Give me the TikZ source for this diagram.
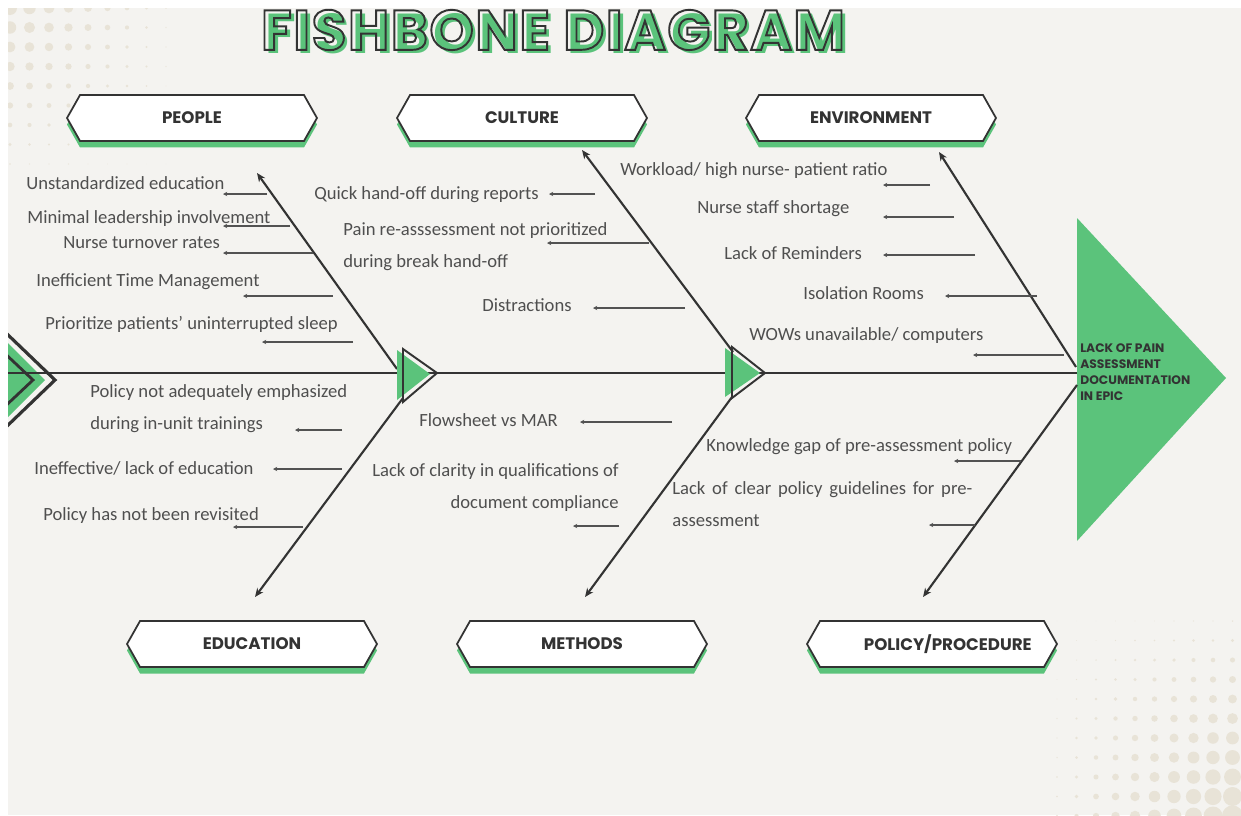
\documentclass[tikz,border=0pt]{standalone}
\usepackage{fontspec}
\usepackage{xcolor}
\usetikzlibrary{arrows.meta,positioning,shapes.symbols,shadows}

\newfontfamily\causefont{Carlito}
\newfontfamily\labelfont{Poppins}
\newfontfamily\titlefont{Poppins}[LetterSpace=3]

\definecolor{fishbg}{HTML}{F4F3F0}
\definecolor{fishdot}{HTML}{E8E3D7}
\definecolor{fishgreen}{HTML}{5BC37B}
\definecolor{fishdark}{HTML}{333333}
\definecolor{fishtext}{HTML}{4F4F4F}

% hollow letters: stroke only
\newcommand\outlined[1]{\special{pdf:literal direct 1 Tr 1.1 w}#1\special{pdf:literal direct 0 Tr}}
% green copy shifted right and down under the hollow letters
\newcommand\shaded[1]{\makebox[0pt][l]{\hspace{2.3pt}\raisebox{-2.3pt}{\color{fishgreen}#1}}\outlined{#1}}

\begin{document}
\begin{tikzpicture}[x=0.02cm, y=-0.02cm,
  spine/.style={draw=fishdark, line width=1.6pt},
  bone/.style={draw=fishdark, line width=1.2pt, -{Stealth[length=5pt, width=4.2pt]}},
  rib/.style={draw=fishdark!85, line width=0.6pt, -{Stealth[length=2.4pt, width=2.4pt]}},
  cat/.style={signal, signal to=east and west, signal pointer angle=121,
    draw=fishdark, line width=1pt, fill=white, minimum width=5cm,
    minimum height=0.92cm, inner sep=0pt, text=fishdark,
    font=\labelfont\bfseries\fontsize{9.5}{11}\selectfont,
    drop shadow={shadow xshift=0cm, shadow yshift=-0.13cm, fill=fishgreen, opacity=1}},
  cause/.style={font=\causefont\fontsize{10.6}{18.2}\selectfont, text=fishtext, inner sep=0pt},
  effect/.style={font=\labelfont\bfseries\fontsize{7}{9.2}\selectfont, text=fishdark,
    inner sep=0pt, align=left},
  headline/.style={font=\titlefont\bfseries\fontsize{32}{36}\selectfont, inner sep=0pt}
]
  \useasboundingbox (0,0) rectangle (1241,815);
  \fill[white] (0,0) rectangle (1241,815);
  \fill[fishbg] (8,8) rectangle (1241,815);

  % halftone corners
  \begin{scope}
    \clip (8,8) rectangle (1241,815);
    \foreach \i in {0,...,8}
      \foreach \j in {0,...,8} {
        \pgfmathsetmacro\rr{7*(1-\i/9)*(1-\j/9)}
        \fill[fishdot] (10+19.5*\i, 8+19.5*\j) circle[radius=\rr];
      }
    \foreach \i in {0,...,9}
      \foreach \j in {0,...,10} {
        \pgfmathsetmacro\rr{9.5*((\i+1)/10)*((\j+1)/10)^1.1}
        \fill[fishdot] (1057+19.5*\i, 621+19.5*\j) circle[radius=\rr];
      }
    % tail
    \fill[fishgreen] (-30,305) -- (45,380) -- (-30,455) -- cycle;
    \draw[fishdark, line width=1.6pt] (-20,330) -- (33,380) -- (-20,430);
    \draw[fishdark, line width=1.8pt] (-20,308) -- (55,380) -- (-20,452);
  \end{scope}

  \coordinate (tail) at (8,373);
  \coordinate (headbase) at (1077,373);
  \draw[spine] (tail) -- (headbase);

  % head
  \coordinate (headtop) at (1077,218);
  \coordinate (headtip) at (1226,378);
  \coordinate (headbot) at (1077,541);
  \fill[fishgreen] (headtop) -- (headtip) -- (headbot) -- cycle;
  \node[effect, anchor=west] (effect) at (1080,372)
    {LACK OF PAIN\\ASSESSMENT\\DOCUMENTATION\\IN EPIC};

  % category boxes
  \node[cat] (people) at (192,118) {PEOPLE};
  \node[cat] (culture) at (522,118) {CULTURE};
  \node[cat] (environment) at (871,118) {ENVIRONMENT};
  \node[cat] (education) at (252,644) {EDUCATION};
  \node[cat] (methods) at (582,644) {METHODS};
  \node[cat] (policy) at (932,644) {\hspace{18pt}POLICY/PROCEDURE};

  % bones
  \coordinate (pplStart) at (397,369);
  \coordinate (pplEnd) at (257,173);
  \coordinate (eduStart) at (403,398);
  \coordinate (eduEnd) at (255,597);
  \coordinate (culStart) at (733,352);
  \coordinate (culEnd) at (582,150);
  \coordinate (metStart) at (732,397);
  \coordinate (metEnd) at (585,597);
  \coordinate (envStart) at (1076,367);
  \coordinate (envEnd) at (939,152);
  \coordinate (polStart) at (1077,385);
  \coordinate (polEnd) at (923,597);
  \draw[bone] (pplStart) -- (pplEnd);
  \draw[bone] (eduStart) -- (eduEnd);
  \draw[bone] (culStart) -- (culEnd);
  \draw[bone] (metStart) -- (metEnd);
  \draw[bone] (envStart) -- (envEnd);
  \draw[bone] (polStart) -- (polEnd);

  % joints on the spine
  \fill[fishgreen] (397,350) -- (430,374) -- (397,400) -- cycle;
  \draw[fishdark, line width=1.1pt, line join=miter] (403,349) -- (437,373) -- (403,402) -- cycle;
  \fill[fishgreen] (725,348) -- (760,373) -- (725,397) -- cycle;
  \draw[fishdark, line width=1.1pt, line join=miter] (732,347) -- (765,373) -- (732,398) -- cycle;

  % causes
  \node[cause, anchor=base west] (c1) at (26,189) {Unstandardized education};
  \node[cause, anchor=base west] (c2) at (27,223) {Minimal leadership involvement};
  \node[cause, anchor=base west] (c3) at (63,248) {Nurse turnover rates};
  \node[cause, anchor=base west] (c4) at (36,286) {Inefficient Time Management};
  \node[cause, anchor=base west] (c5) at (45,329) {Prioritize patients’ uninterrupted sleep};
  \node[cause, anchor=north west, align=left] (c6) at (90,384)
    {Policy not adequately emphasized\\during in-unit trainings};
  \node[cause, anchor=base west] (c7) at (34,474) {Ineffective/ lack of education};
  \node[cause, anchor=base west] (c8) at (43,520) {Policy has not been revisited};
  \node[cause, anchor=base west] (c9) at (314,199) {Quick hand-off during reports};
  \node[cause, anchor=north west, align=left] (c10) at (343,222)
    {Pain re-asssessment not prioritized\\during break hand-off};
  \node[cause, anchor=base west] (c11) at (482,311) {Distractions};
  \node[cause, anchor=base west] (c12) at (419,426) {Flowsheet vs MAR};
  \node[cause, anchor=north east, align=right] (c13) at (619,463)
    {Lack of clarity in qualifications of\\document compliance};
  \node[cause, anchor=base west] (c14) at (620,175) {Workload/ high nurse- patient ratio};
  \node[cause, anchor=base west] (c15) at (697,213) {Nurse staff shortage};
  \node[cause, anchor=base west] (c16) at (724,259) {Lack of Reminders};
  \node[cause, anchor=base west] (c17) at (803,299) {Isolation Rooms};
  \node[cause, anchor=base west] (c18) at (749,340) {WOWs unavailable/ computers};
  \node[cause, anchor=base west] (c19) at (706,451) {Knowledge gap of pre-assessment policy};
  \node[cause, anchor=north west, text width=6cm, align=justify] (c20) at (672,481)
    {Lack of clear policy guidelines for pre-\linebreak assessment};

  % ribs
  \foreach \n/\xa/\xb/\yy in {1/267/223/194, 2/290/223/226, 3/313/223/253,
      4/333/243/296, 5/353/262/342, 6/342/295/430, 7/342/273/469,
      8/303/233/527, 9/595/549/194, 10/649/547/243, 11/685/593/308,
      12/672/580/422, 13/619/573/526, 14/930/883/185, 15/954/883/217,
      16/975/883/255, 17/1037/945/296, 18/1064/973/355, 19/1021/954/461,
      20/975/929/525} {
    \coordinate (rs\n) at (\xa,\yy);
    \coordinate (re\n) at (\xb,\yy);
    \draw[rib] (rs\n) -- (re\n);
  }

  % title
  \node[headline, text=fishdark] (title) at (553,32) {\shaded{FISHBONE DIAGRAM}};
\end{tikzpicture}
\end{document}
